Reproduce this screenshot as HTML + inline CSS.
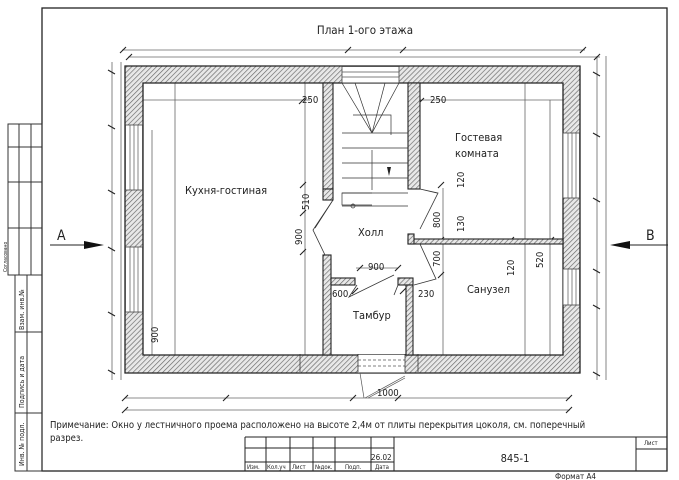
<!DOCTYPE html>
<html><head><meta charset="utf-8"><style>
html,body{margin:0;padding:0;background:#fff;width:679px;height:480px;overflow:hidden}
svg{display:block}
text{font-family:"DejaVu Sans Condensed","DejaVu Sans","Liberation Sans",sans-serif;fill:#222}
</style></head><body>
<svg width="679" height="480" viewBox="0 0 679 480" xmlns="http://www.w3.org/2000/svg">
<defs>
<pattern id="h" width="3.5" height="3.5" patternUnits="userSpaceOnUse" patternTransform="rotate(45)">
<rect width="4" height="4" fill="#e8e8e8"/><line x1="0" y1="0" x2="0" y2="4" stroke="#666" stroke-width="1.3"/>
</pattern>
</defs>
<rect x="42" y="8" width="625" height="463" fill="none" stroke="#222" stroke-width="1.3"/>
<g stroke="#333" stroke-width="1" fill="none">
<rect x="8" y="124" width="34" height="151"/>
<line x1="19" y1="124" x2="19" y2="275"/><line x1="31" y1="124" x2="31" y2="275"/>
<line x1="8" y1="147" x2="42" y2="147"/><line x1="8" y1="182" x2="42" y2="182"/><line x1="8" y1="228" x2="42" y2="228"/>
<rect x="15" y="275" width="27" height="196"/>
<line x1="27" y1="275" x2="27" y2="471"/>
<line x1="15" y1="332" x2="42" y2="332"/><line x1="15" y1="413" x2="42" y2="413"/>
</g>
<g font-size="7" fill="#333">
<text transform="translate(24,330) rotate(-90)">Взам. инв.№</text>
<text transform="translate(24,408) rotate(-90)">Подпись и дата</text>
<text transform="translate(24,466) rotate(-90)">Инв. № подл.</text>
<text transform="translate(7,272) rotate(-90)" font-size="5">Согласовано</text>
</g>
<text x="365" y="34" font-size="11.5" text-anchor="middle">План 1-ого этажа</text>
<g stroke="#666" stroke-width="0.8" fill="none">
<line x1="122" y1="50" x2="585" y2="50"/><line x1="128" y1="57" x2="600" y2="57"/>
<line x1="112" y1="62" x2="112" y2="380"/><line x1="121" y1="62" x2="121" y2="380"/>
<line x1="597" y1="56" x2="597" y2="380"/><line x1="606" y1="56" x2="606" y2="380"/>
<line x1="125" y1="398" x2="570" y2="398"/><line x1="125" y1="410" x2="570" y2="410"/>
<line x1="143" y1="100" x2="310" y2="100"/><line x1="420" y1="100" x2="563" y2="100"/>
<line x1="152" y1="130" x2="152" y2="355"/><line x1="550" y1="100" x2="550" y2="355"/>
<line x1="175" y1="83" x2="175" y2="355"/><line x1="305" y1="83" x2="305" y2="355"/>
<line x1="525" y1="83" x2="525" y2="355"/><line x1="443" y1="188" x2="443" y2="355"/>
<line x1="356" y1="268" x2="398" y2="268"/>
</g>
<g stroke="#222" stroke-width="1.1">
<path d="M120 53l6-6M126 60l6-6M345 53l6-6M400 53l6-6M580 53l6-6M594 60l6-6
M108 70l7 4M108 125l7 4M108 190l7 4M108 247l7 4M108 312l7 4M108 370l7 4
M593 72l7 4M593 133l7 4M593 198l7 4M593 269l7 4M593 305l7 4M593 372l7 4
M122 401l6-6M122 413l6-6M223 401l6-6M350 401l6-6M395 401l6-6M566 401l6-6M566 413l6-6
M299 104l6-6M418 104l6-6M300 188l6-6M300 216l6-6M300 255l6-6M438 188l6-6M438 243l6-6M438 278l6-6
M357 271l6-6M395 271l6-6M352 294l6-6M400 294l6-6M508 243l6-6M548 243l6-6"/>
</g>
<path fill-rule="evenodd" fill="url(#h)" stroke="#222" stroke-width="1.3"
d="M125 66H580V373H125Z M143 83H563V355H143Z"/>
<g fill="#fff" stroke="#444" stroke-width="0.8">
<rect x="125.5" y="125" width="17" height="65"/><rect x="125.5" y="247" width="17" height="65"/>
<rect x="563" y="133" width="16.5" height="65"/><rect x="563" y="269" width="16.5" height="36"/>
<rect x="342" y="66.5" width="57" height="16.5"/>
<rect x="358" y="355" width="47" height="17.5" stroke="none"/>
</g>
<g stroke="#555" stroke-width="0.7">
<path d="M130 125v65M134 125v65M138 125v65M130 247v65M134 247v65M138 247v65M568 133v65M572 133v65M576 133v65M568 269v36M572 269v36M576 269v36M342 72h57M342 77h57"/>
<path d="M358 360h47M358 366h47" stroke-dasharray="3 2"/>
<path d="M300 354v18M358 354v18M405 354v18M418 354v18" stroke="#222"/>
<path d="M360 373l4 25M365 398l40-22M368 398l37-20" fill="none"/>
</g>
<g fill="url(#h)" stroke="#222" stroke-width="1.1">
<rect x="323" y="83" width="10" height="106"/>
<rect x="408" y="83" width="12" height="106"/>
<rect x="323" y="189" width="10" height="11"/>
<rect x="323" y="255" width="8" height="100"/>
<rect x="331" y="278" width="24" height="7"/>
<rect x="398" y="278" width="15" height="7"/>
<rect x="406" y="285" width="7" height="70"/>
<rect x="408" y="239" width="155" height="5"/>
<rect x="408" y="234" width="6" height="10"/>
</g>
<g stroke="#333" stroke-width="0.7" fill="none">
<path d="M342 83h57M342 83l30 50M355 83l17 50M385 83l-13 50M399 83l-27 50M353 115h38v20M342 133h66M342 148h66M342 163h66M342 178h66M342 193h66M342 206h66M372 150v40"/>
<path d="M372 193h-30v12h30"/>
<circle cx="353" cy="206" r="2"/>
</g>
<path d="M391 167l-2 9l-2-9z" fill="#222"/>
<g stroke="#333" stroke-width="0.8" fill="none">
<path d="M333 200l-20 30l12 25M333 200l-18 28"/>
<path d="M420 189l18 4l-18 36M420 189l17 4"/>
<path d="M420 244l16 35l-22 6"/>
<path d="M357 285l-8 12l45-22M398 285l-4 10"/>
</g>
<g font-size="11">
<text x="185" y="194">Кухня-гостиная</text>
<text x="455" y="141">Гостевая</text>
<text x="455" y="157">комната</text>
<text x="358" y="236">Холл</text>
<text x="467" y="293">Санузел</text>
<text x="353" y="319">Тамбур</text>
</g>
<g font-size="9.5">
<text x="302" y="103">250</text><text x="430" y="103">250</text>
<text x="368" y="270">900</text><text x="332" y="297">600</text><text x="418" y="297">230</text>
<text x="377" y="396">1000</text>
<text transform="translate(309,210) rotate(-90)">510</text>
<text transform="translate(302,245) rotate(-90)">900</text>
<text transform="translate(440,228) rotate(-90)">800</text>
<text transform="translate(464,232) rotate(-90)">130</text>
<text transform="translate(464,188) rotate(-90)">120</text>
<text transform="translate(440,267) rotate(-90)">700</text>
<text transform="translate(514,276) rotate(-90)">120</text>
<text transform="translate(543,268) rotate(-90)">520</text>
<text transform="translate(158,343) rotate(-90)">900</text>
</g>
<text x="57" y="240" font-size="14">A</text>
<line x1="50" y1="245" x2="90" y2="245" stroke="#222" stroke-width="1"/>
<path d="M84 241l20 4l-20 4z" fill="#111"/>
<text x="646" y="240" font-size="14">B</text>
<line x1="625" y1="245" x2="668" y2="245" stroke="#222" stroke-width="1"/>
<path d="M630 241l-20 4l20 4z" fill="#111"/>
<g font-size="9.5" fill="#222">
<text x="50" y="428">Примечание: Окно у лестничного проема расположено на высоте 2,4м от плиты перекрытия цоколя, см. поперечный</text>
<text x="50" y="441">разрез.</text>
</g>
<g stroke="#222" stroke-width="1" fill="none">
<path d="M245 437H667M245 448H394M245 462H394M636 449H667M245 437V471M266 437V471M290 437V471M313 437V471M335 437V471M371 437V471M394 437V471M636 437V471"/>
</g>
<g font-size="6" fill="#333">
<text x="247" y="469">Изм.</text><text x="267" y="469">Кол.уч</text><text x="292" y="469">Лист</text>
<text x="315" y="469">№док.</text><text x="345" y="469">Подп.</text><text x="375" y="469">Дата</text>
<text x="644" y="445">Лист</text>
</g>
<text x="371" y="460" font-size="8">26.02</text>
<text x="515" y="462" font-size="11" text-anchor="middle">845-1</text>
<text x="555" y="479" font-size="8" fill="#444">Формат А4</text>
</svg>
</body></html>
